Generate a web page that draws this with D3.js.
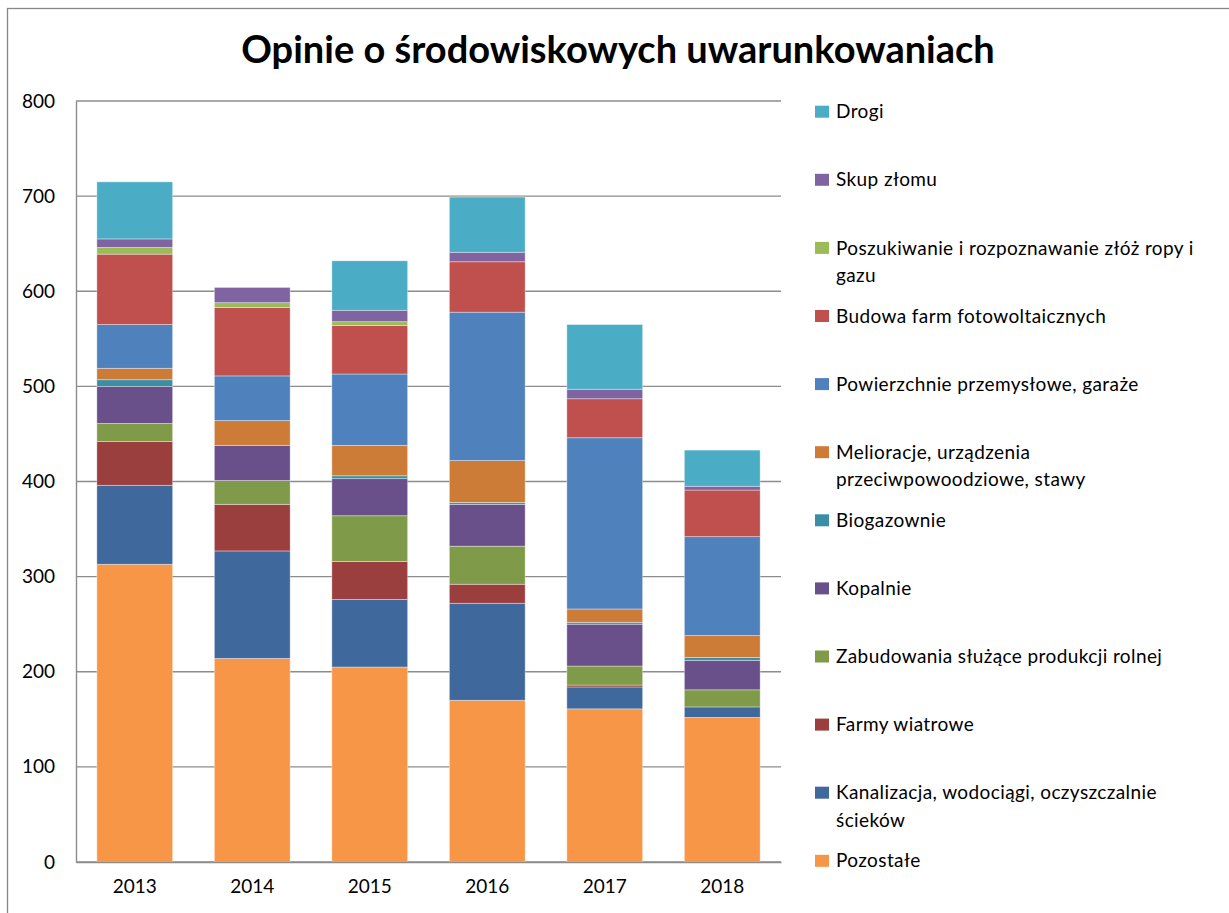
<!DOCTYPE html>
<html>
<head>
<meta charset="utf-8">
<script src="https://cdn.jsdelivr.net/npm/d3@7"></script>
<style>
  body { margin: 0; background: #fff; }
  svg { display: block; font-family: Lato, "Open Sans", sans-serif; }
</style>
</head>
<body>
<div id="chart"></div>
<script>
// dane
const years = ["2013", "2014", "2015", "2016", "2017", "2018"];
const seriesNames = [
  "Pozostałe",
  "Kanalizacja, wodociągi, oczyszczalnie\nścieków",
  "Farmy wiatrowe",
  "Zabudowania służące produkcji rolnej",
  "Kopalnie",
  "Biogazownie",
  "Melioracje, urządzenia\nprzeciwpowoodziowe, stawy",
  "Powierzchnie przemysłowe, garaże",
  "Budowa farm fotowoltaicznych",
  "Poszukiwanie i rozpoznawanie złóż ropy i\ngazu",
  "Skup złomu",
  "Drogi"
];
const pozostale     = [313, 214, 205, 170, 161, 152];
const kanalizacja   = [83, 113, 71, 102, 23, 11];
const farmyWiatrowe = [46, 49, 40, 20, 2, 0];
const zabudowania   = [19, 25, 48, 40, 20, 18];
const kopalnie      = [39, 37, 39, 44, 44, 31];
const biogazownie   = [7, 0, 3, 2, 2, 3];
const melioracje    = [12, 26, 32, 44, 14, 23];
const powierzchnie  = [46, 47, 75, 156, 180, 104];
const fotowoltaika  = [74, 72, 51, 53, 41, 49];
const poszukiwanie  = [7, 5, 4, 0, 0, 0];
const skupZlomu     = [9, 16, 12, 10, 10, 4];
const drogi         = [60, 0, 52, 58, 68, 38];
const yTicks = [0, 100, 200, 300, 400, 500, 600, 700, 800];

const seriesValues = [pozostale, kanalizacja, farmyWiatrowe, zabudowania, kopalnie,
  biogazownie, melioracje, powierzchnie, fotowoltaika, poszukiwanie, skupZlomu, drogi];
const colors = ["#F79646", "#3F689C", "#9A3F3D", "#7F9A48", "#69508A", "#3B8EA5",
  "#CD7C38", "#4F81BD", "#C0504D", "#9BBB59", "#8064A2", "#4BACC6"];

const W = 1229, H = 913;
const plot = { left: 76, right: 781, top: 101, bottom: 862 };

const svg = d3.select("#chart").append("svg")
  .attr("width", W)
  .attr("height", H);

// ramka wykresu
svg.append("rect")
  .attr("x", 7.5).attr("y", 8.5)
  .attr("width", W + 20).attr("height", H + 20)
  .attr("fill", "none")
  .attr("stroke", "#878787")
  .attr("stroke-width", 1.3);

svg.append("text")
  .attr("x", 618).attr("y", 63)
  .attr("text-anchor", "middle")
  .attr("font-size", 38)
  .attr("font-weight", "bold")
  .text("Opinie o środowiskowych uwarunkowaniach");

// tabela do d3.stack
const table = years.map((yr, i) => {
  const row = { year: yr };
  seriesNames.forEach((s, k) => { row[s] = seriesValues[k][i]; });
  return row;
});
const stacked = d3.stack().keys(seriesNames)(table);

const x = d3.scaleBand()
  .domain(years)
  .range([plot.left, plot.right])
  .paddingInner(0.355)
  .paddingOuter(0.1775);
const y = d3.scaleLinear()
  .domain([0, 800])
  .range([plot.bottom, plot.top]);

// linie siatki
svg.append("g")
  .selectAll("line")
  .data(yTicks)
  .enter()
  .append("line")
  .attr("x1", plot.left)
  .attr("x2", plot.right)
  .attr("y1", d => y(d))
  .attr("y2", d => y(d))
  .attr("stroke", "#8c8c8c")
  .attr("stroke-width", 1.4);

// słupki
svg.append("g")
  .selectAll("g")
  .data(stacked)
  .enter()
  .append("g")
  .attr("fill", (d, i) => colors[i])
  .selectAll("rect")
  .data(d => d)
  .enter()
  .append("rect")
  .attr("x", d => x(d.data.year))
  .attr("width", x.bandwidth())
  .attr("y", d => y(d[1]))
  .attr("height", d => y(d[0]) - y(d[1]))
  .attr("stroke", "#ffffff")
  .attr("stroke-opacity", 0.45)
  .attr("stroke-width", 0.8);

// osie
const yAxis = d3.axisLeft(y).tickValues(yTicks).tickSize(0).tickPadding(21);
svg.append("g")
  .attr("transform", `translate(${plot.left},0)`)
  .call(yAxis)
  .call(g => g.select(".domain").attr("stroke", "#8c8c8c").attr("stroke-width", 1.4))
  .call(g => g.selectAll("text").attr("font-size", 19).attr("fill", "#000")
    .attr("font-family", "Lato, sans-serif"));

const xAxis = d3.axisBottom(x).tickSize(0).tickPadding(18);
svg.append("g")
  .attr("transform", `translate(0,${plot.bottom})`)
  .call(xAxis)
  .call(g => g.select(".domain").attr("stroke", "#8c8c8c").attr("stroke-width", 1.4))
  .call(g => g.selectAll("text").attr("font-size", 19).attr("fill", "#000")
    .attr("font-family", "Lato, sans-serif"));

// legenda (od góry: Drogi ... Pozostałe)
const legendItems = seriesNames.map((s, i) => ({ name: s, color: colors[i] })).reverse();
const legend = svg.append("g")
  .selectAll("g")
  .data(legendItems)
  .enter()
  .append("g")
  .attr("transform", (d, i) => `translate(815,${111.7 + i * 68.1})`);

legend.append("rect")
  .attr("x", 0).attr("y", -6)
  .attr("width", 14).attr("height", 12)
  .attr("fill", d => d.color);

legend.append("text")
  .attr("x", 21)
  .attr("y", 0)
  .attr("font-size", 19)
  .attr("letter-spacing", 0.4)
  .attr("fill", "#000")
  .selectAll("tspan")
  .data(d => d.name.split("\n"))
  .enter()
  .append("tspan")
  .attr("x", 21)
  .attr("dy", (d, i) => i === 0 ? "0.35em" : 27.5)
  .text(d => d);
</script>
</body>
</html>
